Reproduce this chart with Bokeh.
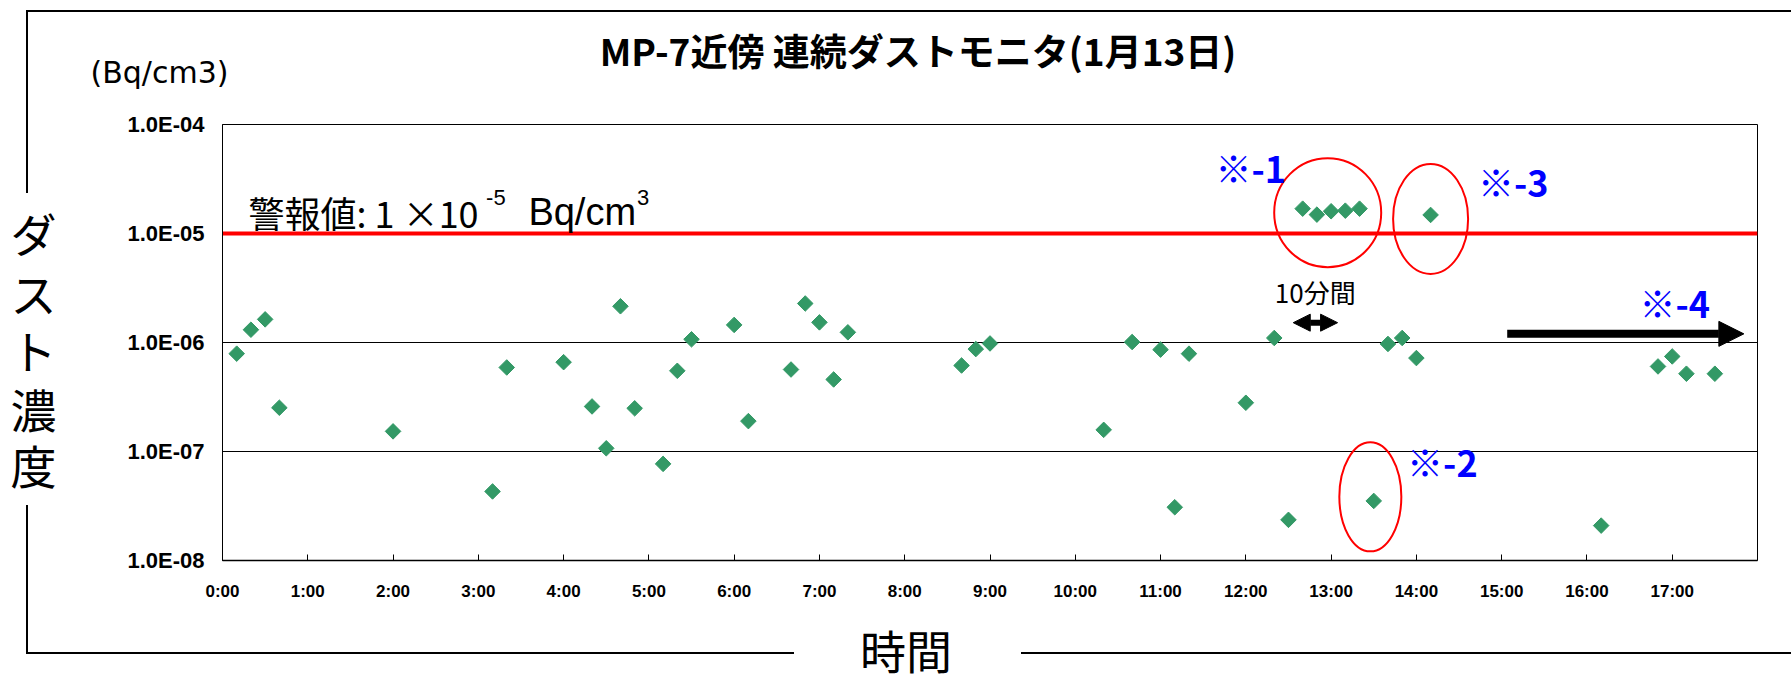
import math
from bokeh.plotting import figure
from bokeh.models import (Range1d, FixedTicker, Arrow, NormalHead, ColumnDataSource, LinearAxis,
                          LinearScale, Title)
from bokeh.core.properties import value
from bokeh.embed import file_html
from bokeh.resources import INLINE

# ---------------- data ----------------
title_text = "MP-7近傍 連続ダストモニタ(1月13日)"
unit_text = "(Bq/cm3)"
y_title = "ダスト濃度"
x_title = "時間"

times = ["0:10", "0:20", "0:30", "0:40", "2:00", "3:10", "3:20", "4:00", "4:20", "4:30",
         "4:40", "4:50", "5:10", "5:20", "5:30", "6:00", "6:10", "6:40", "6:50", "7:00",
         "7:10", "7:20", "8:40", "8:50", "9:00", "10:20", "10:40", "11:00", "11:10", "11:20",
         "12:00", "12:20", "12:30", "12:40", "12:50", "13:00", "13:10", "13:20", "13:30", "13:40",
         "13:50", "14:00", "14:10", "16:10", "16:50", "17:00", "17:10", "17:30"]
values = [7.9e-7, 1.31e-6, 1.63e-6, 2.52e-7, 1.53e-7, 4.3e-8, 5.9e-7, 6.6e-7, 2.59e-7, 1.07e-7,
          2.15e-6, 2.49e-7, 7.7e-8, 5.5e-7, 1.07e-6, 1.45e-6, 1.90e-7, 5.65e-7, 2.28e-6, 1.53e-6,
          4.58e-7, 1.24e-6, 6.15e-7, 8.7e-7, 9.8e-7, 1.58e-7, 1.01e-6, 8.6e-7, 3.08e-8, 7.9e-7,
          2.8e-7, 1.10e-6, 2.36e-8, 1.69e-5, 1.49e-5, 1.60e-5, 1.62e-5, 1.69e-5, 3.52e-8, 9.7e-7,
          1.10e-6, 7.2e-7, 1.48e-5, 2.09e-8, 6.03e-7, 7.45e-7, 5.17e-7, 5.17e-7]

alarm_value = 1e-5
alarm_label = "警報値: 1 ×10"
alarm_exp = "-5"
alarm_unit = "Bq/cm"
alarm_unit_exp = "3"

x_ticks = list(range(18))
x_tick_labels = ["0:00", "1:00", "2:00", "3:00", "4:00", "5:00", "6:00", "7:00", "8:00",
                 "9:00", "10:00", "11:00", "12:00", "13:00", "14:00", "15:00", "16:00", "17:00"]
y_ticks = [1e-8, 1e-7, 1e-6, 1e-5, 1e-4]
y_tick_labels = ["1.0E-08", "1.0E-07", "1.0E-06", "1.0E-05", "1.0E-04"]

group1 = ["12:40", "12:50", "13:00", "13:10", "13:20"]   # ※-1
point2 = "13:30"                                        # ※-2
point3 = "14:10"                                        # ※-3
note_texts = ["※-1", "※-2", "※-3", "※-4"]
span_text = "10分間"


def to_hours(s):
    h, m = s.split(":")
    return int(h) + int(m) / 60.0


hours = [to_hours(t) for t in times]

# ---------------- figure ----------------
W, H = 1791, 684
FL, FT, FR, FB = 222, 124, 34, 124

p = figure(width=W, height=H, x_range=Range1d(0, 18), y_range=Range1d(1e-8, 1e-4),
           y_axis_type="log", output_backend="svg", toolbar_location=None,
           min_border_left=FL, min_border_right=FR, min_border_top=FT, min_border_bottom=FB,
           background_fill_color="white", border_fill_color=None)
p.title.visible = False
p.outline_line_color = "black"
p.outline_line_width = 1

# chart-area frame (decorative lines around the whole chart, behind the canvas)
frame_lines = [(26, 10, 1765, 2), (26, 10, 2, 183), (26, 505, 2, 149),
               (26, 652, 768, 2), (1021, 652, 770, 2)]
p.styles = {"background": ", ".join(
    f"linear-gradient(#000, #000) {x}px {y}px / {w}px {h}px no-repeat"
    for x, y, w, h in frame_lines) + ", #ffffff"}

p.xgrid.visible = False
p.ygrid.ticker = FixedTicker(ticks=y_ticks)
p.ygrid.grid_line_color = "black"
p.ygrid.grid_line_width = 1

p.yaxis.ticker = FixedTicker(ticks=y_ticks)
p.yaxis.major_label_overrides = dict(zip(y_ticks, y_tick_labels))
p.yaxis.major_tick_in = 0
p.yaxis.major_tick_out = 0
p.yaxis.minor_tick_line_color = None
p.yaxis.major_label_standoff = 18
p.yaxis.major_label_text_font = "Liberation Sans"
p.yaxis.major_label_text_font_style = "bold"
p.yaxis.major_label_text_font_size = "22px"
p.yaxis.major_label_text_color = "black"
p.yaxis.axis_line_color = "black"

p.xaxis.ticker = FixedTicker(ticks=x_ticks)
p.xaxis.major_label_overrides = dict(zip(x_ticks, x_tick_labels))
p.xaxis.major_tick_in = 6
p.xaxis.major_tick_out = 0
p.xaxis.major_tick_line_color = "black"
p.xaxis.minor_tick_line_color = None
p.xaxis.major_label_standoff = 21
p.xaxis.major_label_text_font = "Liberation Sans"
p.xaxis.major_label_text_font_style = "bold"
p.xaxis.major_label_text_font_size = "17px"
p.xaxis.major_label_text_color = "black"
p.xaxis.axis_line_color = "black"
p.xaxis.axis_line_width = 1.5

# ---- texts outside the plotting area, placed through extra axes / titles ----
# unit text (closest to the frame in the top panel)
p.add_layout(Title(text=unit_text, align="left", offset=-132, standoff=65,
                   vertical_align="top", text_font="DejaVu Sans",
                   text_font_size="30px", text_font_style="normal", text_color="black"), "above")
# chart title
title_pos = 8.156
ax_t = LinearAxis(ticker=FixedTicker(ticks=[title_pos]),
                  major_label_overrides={title_pos: title_text},
                  axis_line_color=None, major_tick_line_color=None, minor_tick_line_color=None,
                  major_tick_in=0, major_tick_out=0, major_label_standoff=-54,
                  major_label_text_font="Noto Sans CJK JP", major_label_text_font_style="bold",
                  major_label_text_font_size="37px", major_label_text_color="black")
p.add_layout(ax_t, "above")

# x title
xt_pos = 8.015
ax_x = LinearAxis(ticker=FixedTicker(ticks=[xt_pos]),
                  major_label_overrides={xt_pos: x_title},
                  axis_line_color=None, major_tick_line_color=None, minor_tick_line_color=None,
                  major_tick_in=0, major_tick_out=0, major_label_standoff=12,
                  major_label_text_font="Noto Sans CJK JP", major_label_text_font_size="46px",
                  major_label_text_color="black")
p.add_layout(ax_x, "below")

# y title, one character per row
p.extra_y_ranges = {"ytitle": Range1d(0, 436)}
p.extra_y_scales = {"ytitle": LinearScale()}
yt_pos = [328.5, 269, 211.5, 152.5, 96.5]
ax_y = LinearAxis(y_range_name="ytitle", ticker=FixedTicker(ticks=yt_pos),
                  major_label_overrides=dict(zip(yt_pos, list(y_title))),
                  axis_line_color=None, major_tick_line_color=None, minor_tick_line_color=None,
                  major_tick_in=0, major_tick_out=0, major_label_standoff=68,
                  major_label_text_font="Noto Sans CJK JP", major_label_text_font_size="46px",
                  major_label_text_color="black")
p.add_layout(ax_y, "left")

# ---------------- plot content ----------------
p.line(x=[p.x_range.start, p.x_range.end], y=[alarm_value, alarm_value],
       line_color="#ff0000", line_width=4)

src = ColumnDataSource(dict(t=hours, v=values))
p.scatter(x="t", y="v", source=src, marker="square", angle=math.pi / 4, size=11,
          fill_color="#339966", line_color="#339966")

idx = {t: i for i, t in enumerate(times)}
g1x = sum(hours[idx[t]] for t in group1) / len(group1)
g1y = 10 ** (sum(math.log10(values[idx[t]]) for t in group1) / len(group1))
p.ellipse(x=[g1x - 0.04], y=[g1y * 0.96], width=107, height=109, width_units="screen",
          height_units="screen", fill_color=None, line_color="#ff0000", line_width=2)
p.ellipse(x=[hours[idx[point3]]], y=[values[idx[point3]] * 0.92], width=75, height=110,
          width_units="screen", height_units="screen", fill_color=None,
          line_color="#ff0000", line_width=2)
p.ellipse(x=[hours[idx[point2]] - 0.04], y=[values[idx[point2]] * 1.09], width=62, height=109,
          width_units="screen", height_units="screen", fill_color=None,
          line_color="#ff0000", line_width=2)

p.text(x=[12.057, 14.305, 15.135, 17.03], y=[4.1e-5, 8.2e-8, 3.05e-5, 2.34e-6], text=note_texts,
       text_font=value("Noto Sans CJK JP"), text_font_size="36px", text_font_style="bold",
       text_color="#0000ff", text_align="center", text_baseline="middle")

p.text(x=[12.814], y=[2.92e-6], text=[span_text], text_font=value("Noto Sans CJK JP"),
       text_font_size="26px", text_color="black", text_align="center", text_baseline="middle")
p.add_layout(Arrow(start=NormalHead(size=17, fill_color="black", line_color="black"),
                   end=NormalHead(size=17, fill_color="black", line_color="black"),
                   x_start=12.556, y_start=1.52e-6, x_end=13.076, y_end=1.52e-6,
                   line_color="black", line_width=6))
p.add_layout(Arrow(end=NormalHead(size=25, fill_color="black", line_color="black"),
                   x_start=15.065, y_start=1.2e-6, x_end=17.84, y_end=1.2e-6,
                   line_color="black", line_width=8))

p.text(x=[0.305], y=[1.59e-5], text=[alarm_label], text_font=value("Noto Sans CJK JP"),
       text_font_size="36px", text_color="black", text_align="left", text_baseline="middle")
p.text(x=[3.091], y=[2.14e-5], text=[alarm_exp], text_font=value("Liberation Sans"),
       text_font_size="22px", text_color="black", text_align="left", text_baseline="middle")
p.text(x=[3.587], y=[1.56e-5], text=[alarm_unit], text_font=value("Liberation Sans"),
       text_font_size="38px", text_color="black", text_align="left", text_baseline="middle")
p.text(x=[4.862], y=[2.14e-5], text=[alarm_unit_exp], text_font=value("Liberation Sans"),
       text_font_size="22px", text_color="black", text_align="left", text_baseline="middle")

open("out.html", "w").write(file_html(p, INLINE))
